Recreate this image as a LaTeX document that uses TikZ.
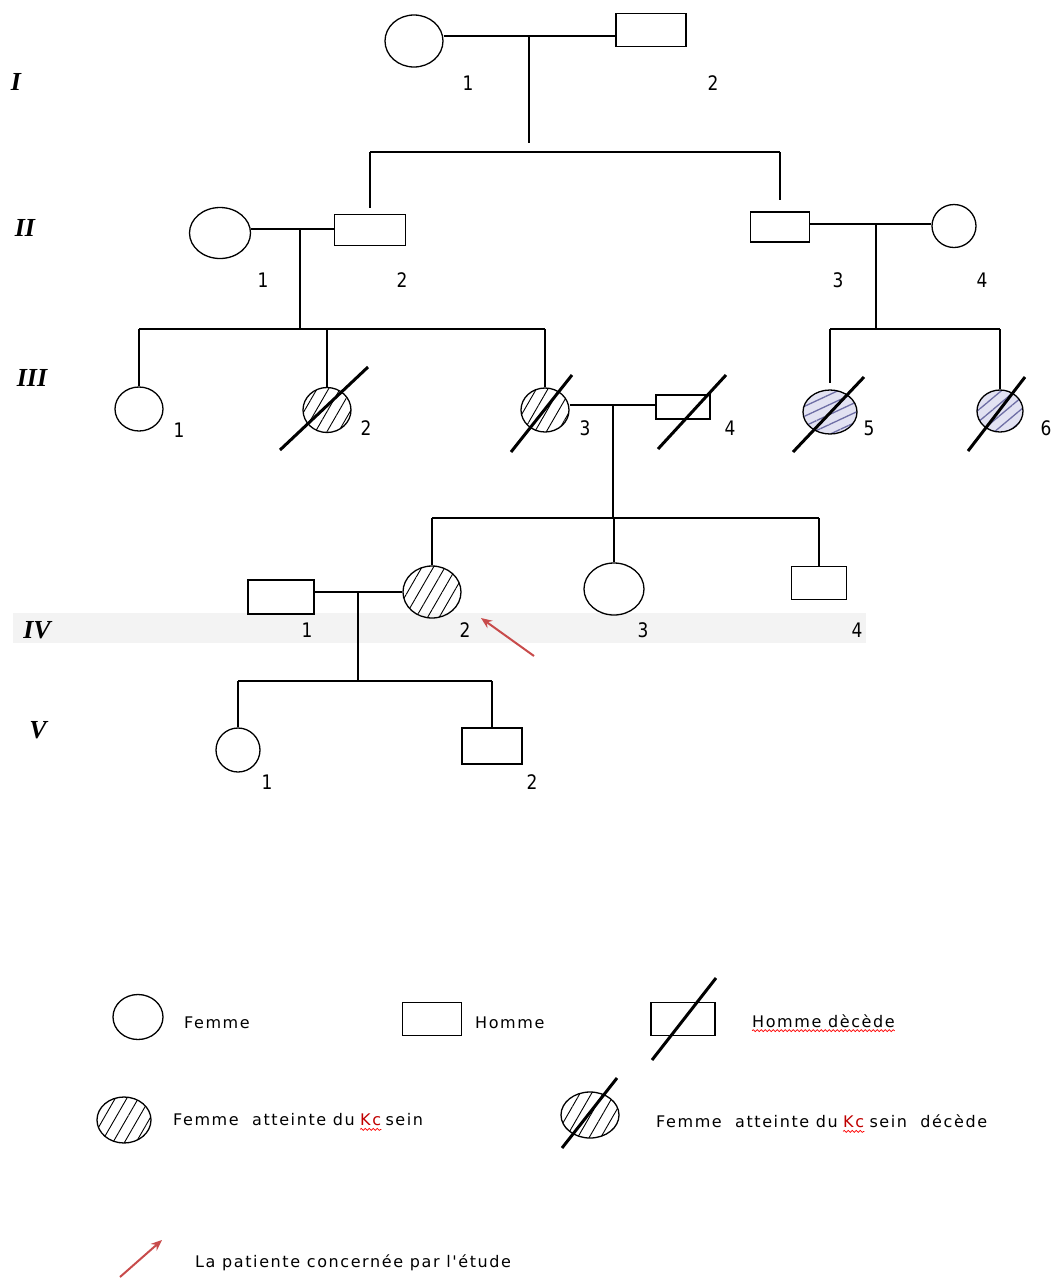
\documentclass[tikz,border=0pt]{standalone}
\usepackage{fontspec}
\setmainfont{DejaVu Sans}
\newfontfamily\legfont{DejaVu Sans}[LetterSpace=10]
\newfontfamily\numfont{DejaVu Sans}[FakeStretch=0.85]
\newfontfamily\genfont{Liberation Serif}
\usetikzlibrary{shapes.geometric, patterns.meta, calc, arrows.meta, decorations.pathmorphing}

\definecolor{lavfill}{RGB}{226,226,242}
\definecolor{lavline}{RGB}{110,110,165}
\definecolor{flecherouge}{RGB}{200,75,75}
\definecolor{bandegris}{RGB}{243,243,243}

\tikzset{
  femme/.style={draw, ellipse, inner sep=0pt, line width=1.3pt},
  homme/.style={draw, rectangle, inner sep=0pt, line width=1.3pt},
  atteinte/.style={pattern={Lines[angle=60,distance=10pt,line width=0.9pt]}},
  atteintebleu/.style={preaction={fill=lavfill}, pattern={Lines[angle=#1,distance=9pt,line width=1.3pt]}, pattern color=lavline},
  deces/.style={line width=3pt},
  lien/.style={line width=1.4pt},
  num/.style={font=\numfont\fontsize{20}{20}\selectfont, inner sep=0pt},
  gen/.style={font=\genfont\bfseries\itshape\fontsize{26}{26}\selectfont, inner sep=0pt},
  legtext/.style={font=\legfont\fontsize{16}{16}\selectfont, anchor=west, inner sep=0pt},
  fleche/.style={draw=flecherouge, line width=2pt, -{Stealth[length=11pt,width=9pt]}},
  ondule/.style={draw=red, line width=0.7pt, decorate, decoration={snake, amplitude=1pt, segment length=4pt}},
}

\begin{document}
\begin{tikzpicture}[x=1pt, y=-1pt]
    \useasboundingbox (0,0) rectangle (1051,1278);
    % bande grise de la generation IV
    \fill[bandegris] (13,613) rectangle (866,643);

    % generations
    \node[gen] (gI)   at (16,82)  {I};
    \node[gen] (gII)  at (25,228) {II};
    \node[gen] (gIII) at (32,378) {III};
    \node[gen] (gIV)  at (37,630) {IV};
    \node[gen] (gV)   at (38,730) {V};

    % generation I
    \node[femme, minimum width=58pt, minimum height=52pt] (I1) at (414,41) {};
    \node[homme, minimum width=70pt, minimum height=33pt] (I2) at (651,30) {};
    \node[num] (nI1) at (468,83) {1};
    \node[num] (nI2) at (713,83) {2};

    % generation II
    \node[femme, minimum width=61pt, minimum height=51pt] (II1) at (220,233) {};
    \node[homme, minimum width=71pt, minimum height=31pt] (II2) at (370,230) {};
    \node[homme, minimum width=59pt, minimum height=30pt] (II3) at (780,227) {};
    \node[femme, minimum width=44pt, minimum height=43pt] (II4) at (954,226) {};
    \node[num] (nII1) at (263,280) {1};
    \node[num] (nII2) at (402,280) {2};
    \node[num] (nII3) at (838,280) {3};
    \node[num] (nII4) at (982,280) {4};

    % generation III
    \node[femme, minimum width=48pt, minimum height=44pt] (III1) at (139,409) {};
    \node[femme, atteinte, minimum width=48pt, minimum height=45pt] (III2) at (327,410) {};
    \node[femme, atteinte, minimum width=48pt, minimum height=44pt] (III3) at (545,410) {};
    \node[homme, minimum width=54pt, minimum height=24pt] (III4) at (683,407) {};
    \node[femme, atteintebleu=25, minimum width=54pt, minimum height=44pt] (III5) at (830,412) {};
    \node[femme, atteintebleu=40, minimum width=46pt, minimum height=42pt] (III6) at (1000,411) {};
    \draw[deces] ($(III2)+(-47,40)$) -- ($(III2)+(41,-43)$);
    \draw[deces] ($(III3)+(-34,42)$) -- ($(III3)+(27,-35)$);
    \draw[deces] ($(III4)+(-25,42)$) -- ($(III4)+(43,-32)$);
    \draw[deces] ($(III5)+(-37,40)$) -- ($(III5)+(34,-35)$);
    \draw[deces] ($(III6)+(-32,40)$) -- ($(III6)+(25,-34)$);
    \node[num] (nIII1) at (179,430) {1};
    \node[num] (nIII2) at (366,428) {2};
    \node[num] (nIII3) at (585,428) {3};
    \node[num] (nIII4) at (730,428) {4};
    \node[num] (nIII5) at (869,428) {5};
    \node[num] (nIII6) at (1046,428) {6};

    % generation IV
    \node[homme, minimum width=66pt, minimum height=34pt] (IV1) at (281,597) {};
    \node[femme, atteinte, minimum width=58pt, minimum height=52pt] (IV2) at (432,592) {};
    \node[femme, minimum width=60pt, minimum height=52pt] (IV3) at (614,589) {};
    \node[homme, minimum width=55pt, minimum height=33pt] (IV4) at (819,583) {};
    \node[num] (nIV1) at (307,630) {1};
    \node[num] (nIV2) at (465,630) {2};
    \node[num] (nIV3) at (643,630) {3};
    \node[num] (nIV4) at (857,630) {4};
    % la patiente
    \coordinate (pat) at (534,656);
    \draw[fleche] (pat) -- ($(IV2)+(49,26)$);

    % generation V
    \node[femme, minimum width=44pt, minimum height=44pt] (V1) at (238,750) {};
    \node[homme, minimum width=60pt, minimum height=36pt] (V2) at (492,746) {};
    \node[num] (nV1) at (267,782) {1};
    \node[num] (nV2) at (532,782) {2};

    % unions et descendances
    \coordinate (m1) at (529,36);
    \coordinate (s1) at (529,152);
    \draw[lien] (m1 -| I1.east) -- (m1 -| I2.west);
    \draw[lien] (m1) -- ($(s1)+(0,-9)$);
    \draw[lien] (s1 -| II2.north) -- (s1 -| II3.north);
    \draw[lien, shorten >=6pt] (s1 -| II2.north) -- (II2.north);
    \draw[lien, shorten >=11pt] (s1 -| II3.north) -- (II3.north);

    \coordinate (m2) at (300,229);
    \coordinate (s2) at (300,329);
    \draw[lien] (m2 -| II1.east) -- (m2 -| II2.west);
    \draw[lien] (m2) -- (s2);
    \draw[lien] (s2 -| III1.north) -- (s2 -| III3.north);
    \foreach \enf in {III1, III2, III3}
        \draw[lien] (s2 -| \enf.north) -- (\enf.north);

    \coordinate (m3) at (876,224);
    \coordinate (s3) at (876,329);
    \draw[lien] (m3 -| II3.east) -- (m3 -| II4.west);
    \draw[lien] (m3) -- (s3);
    \draw[lien] (s3 -| III5.north) -- (s3 -| III6.north);
    \draw[lien, shorten >=6pt] (s3 -| III5.north) -- (III5.north);
    \draw[lien] (s3 -| III6.north) -- (III6.north);

    \coordinate (m4) at (613,405);
    \coordinate (s4) at (613,518);
    \draw[lien] (m4 -| III3.east) -- (m4 -| III4.west);
    \draw[lien] (m4) -- (s4);
    \draw[lien] (s4 -| IV2.north) -- (s4 -| IV4.north);
    \foreach \enf in {IV2, IV3, IV4}
        \draw[lien] (s4 -| \enf.north) -- (\enf.north);

    \coordinate (m5) at (358,592);
    \coordinate (s5) at (358,681);
    \draw[lien] (m5 -| IV1.east) -- (m5 -| IV2.west);
    \draw[lien] (m5) -- (s5);
    \draw[lien] (s5 -| V1.north) -- (s5 -| V2.north);
    \foreach \enf in {V1, V2}
        \draw[lien] (s5 -| \enf.north) -- (\enf.north);

    % legende
    \node[femme, minimum width=50pt, minimum height=45pt] (L1) at (138,1017) {};
    \node[legtext] (lg1) at (184,1023) {Femme};
    \node[homme, minimum width=59pt, minimum height=33pt] (L2) at (432,1019) {};
    \node[legtext] (lg2) at (475,1023) {Homme};
    \node[homme, minimum width=64pt, minimum height=33pt] (L3) at (683,1019) {};
    \draw[deces] ($(L3)+(-31,41)$) -- ($(L3)+(33,-41)$);
    \node[legtext] (lg3) at (752,1021) {Homme dècède};
    \draw[ondule] ($(lg3.south west)+(0,3)$) -- ($(lg3.south east)+(0,3)$);

    \node[femme, atteinte, minimum width=54pt, minimum height=46pt] (L4) at (124,1120) {};
    \node[legtext] (lg4a) at (173,1120) {Femme\ \ atteinte du};
    \node[legtext, anchor=base west, text=red!75!black] (lg4b) at ($(lg4a.base east)+(5,0)$) {Kc};
    \node[legtext, anchor=base west] (lg4c) at ($(lg4b.base east)+(4,0)$) {sein};
    \draw[ondule] ($(lg4b.south west)+(0,3)$) -- ($(lg4b.south east)+(0,3)$);

    \node[femme, atteinte, minimum width=58pt, minimum height=46pt] (L5) at (590,1115) {};
    \draw[deces] ($(L5)+(-28,33)$) -- ($(L5)+(27,-37)$);
    \node[legtext] (lg5a) at (656,1122) {Femme\ \ atteinte du};
    \node[legtext, anchor=base west, text=red!75!black] (lg5b) at ($(lg5a.base east)+(5,0)$) {Kc};
    \node[legtext, anchor=base west] (lg5c) at ($(lg5b.base east)+(5,0)$) {sein\ \ décède};
    \draw[ondule] ($(lg5b.south west)+(0,3)$) -- ($(lg5b.south east)+(0,3)$);

    \coordinate (lgfl) at (120,1277);
    \node[legtext] (lg6) at (195,1263) {La patiente concernée par l'étude};
    \draw[fleche] (lgfl) -- ($(lgfl)+(42,-37)$);
\end{tikzpicture}
\end{document}
